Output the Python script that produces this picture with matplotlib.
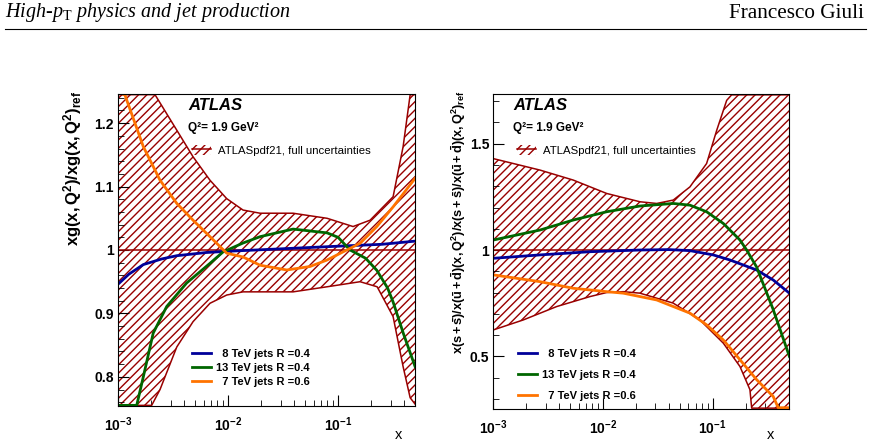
import numpy as np
import matplotlib
matplotlib.use('Agg')
import matplotlib.pyplot as plt
from matplotlib.patches import Patch
from matplotlib.lines import Line2D
from matplotlib.ticker import MultipleLocator, FuncFormatter

plt.rcParams['font.family'] = 'Liberation Sans'
plt.rcParams['font.weight'] = 'bold'
plt.rcParams['mathtext.fontset'] = 'custom'
plt.rcParams['mathtext.rm'] = 'Liberation Sans:bold'
plt.rcParams['mathtext.it'] = 'Liberation Serif:style=italic:weight=normal'
plt.rcParams['mathtext.bf'] = 'Liberation Serif:weight=normal'
plt.rcParams['hatch.linewidth'] = 1.0

# ---- gluon ratio (left), values are log10(x) / ratio ----
g_up_lx = [-3.0, -2.664, -2.466, -2.318, -2.164, -2.012, -1.864, -1.709, -1.409, -1.10, -0.864, -0.709, -0.5, -0.409, -0.345, -0.30]
g_up = [1.245, 1.245, 1.189, 1.147, 1.110, 1.081, 1.063, 1.058, 1.058, 1.050, 1.037, 1.047, 1.084, 1.163, 1.245, 1.245]
g_lo_lx = [-3.0, -2.694, -2.618, -2.466, -2.318, -2.164, -2.012, -1.864, -1.409, -1.10, -0.80, -0.645, -0.5, -0.409, -0.345, -0.30]
g_lo = [0.755, 0.755, 0.78, 0.847, 0.887, 0.916, 0.929, 0.934, 0.934, 0.942, 0.950, 0.942, 0.895, 0.816, 0.767, 0.757]

g_8tev_lx = [-3.0, -2.9, -2.77, -2.6, -2.466, -2.2, -2.0, -1.5, -1.0, -0.6, -0.30]
g_8tev = [0.946, 0.962, 0.977, 0.986, 0.991, 0.996, 0.998, 1.002, 1.006, 1.009, 1.014]
g_13tev_lx = [-3.0, -2.83, -2.77, -2.68, -2.557, -2.376, -2.164, -2.045, -1.864, -1.709, -1.409, -1.10, -1.0, -0.891, -0.75, -0.648, -0.55, -0.5, -0.406, -0.30]
g_13tev = [0.755, 0.755, 0.80, 0.869, 0.911, 0.948, 0.979, 0.997, 1.011, 1.021, 1.033, 1.027, 1.02, 1.0, 0.987, 0.968, 0.94, 0.918, 0.868, 0.816]
g_7tev_lx = [-3.0, -2.936, -2.77, -2.618, -2.466, -2.318, -2.164, -2.012, -1.864, -1.709, -1.466, -1.255, -1.103, -0.955, -0.8, -0.648, -0.5, -0.30]
g_7tev = [1.25, 1.244, 1.163, 1.110, 1.0735, 1.047, 1.021, 0.995, 0.989, 0.976, 0.9685, 0.974, 0.984, 0.997, 1.0106, 1.037, 1.068, 1.113]

# ---- strange ratio (right) ----
s_up_lx = [-3.0, -2.574, -2.271, -1.966, -1.663, -1.51, -1.359, -1.207, -1.055, -0.963, -0.872, -0.827, -0.30]
s_up = [1.43, 1.376, 1.329, 1.266, 1.227, 1.219, 1.235, 1.297, 1.407, 1.563, 1.704, 1.73, 1.73]
s_lo_lx = [-3.0, -2.727, -2.422, -2.118, -1.966, -1.815, -1.663, -1.359, -1.116, -0.903, -0.751, -0.66, -0.644, -0.30]
s_lo = [0.624, 0.671, 0.734, 0.781, 0.80, 0.804, 0.797, 0.75, 0.671, 0.562, 0.452, 0.343, 0.256, 0.256]

s_8tev_lx = [-3.0, -2.574, -2.118, -1.663, -1.4, -1.207, -0.995, -0.842, -0.599, -0.448, -0.30]
s_8tev = [0.961, 0.977, 0.992, 1.0, 1.002, 0.997, 0.977, 0.953, 0.906, 0.859, 0.797]
s_13tev_lx = [-3.0, -2.574, -2.271, -1.966, -1.663, -1.359, -1.207, -1.055, -0.903, -0.751, -0.69, -0.599, -0.448, -0.30]
s_13tev = [1.047, 1.094, 1.141, 1.18, 1.207, 1.219, 1.211, 1.18, 1.125, 1.047, 1.0, 0.92, 0.72, 0.499]
s_7tev_lx = [-3.0, -2.574, -2.271, -1.966, -1.815, -1.51, -1.207, -1.055, -0.903, -0.751, -0.599, -0.448, -0.402, -0.30]
s_7tev = [0.883, 0.851, 0.82, 0.804, 0.797, 0.765, 0.703, 0.648, 0.577, 0.484, 0.39, 0.311, 0.258, 0.258]

labels = ['  8 TeV jets R =0.4', '13 TeV jets R =0.4', '  7 TeV jets R =0.6']
band_label = 'ATLASpdf21, full uncertainties'
red = '#990000'
colors = ['#000099', '#006600', '#ff7300']


def panel(ax, up_lx, up, lo_lx, lo, curves, ylim, major, minor, ylabel, ylab_size,
          ylab_x, xlab_xy, leg_band_xy, leg_xy, leg_spacing, text_xy):
    ax.set_xscale('log')
    xu = 10 ** np.array(up_lx)
    xl = 10 ** np.array(lo_lx)
    ax.fill(np.concatenate([xu, xl[::-1]]), np.concatenate([up, lo[::-1]]),
            facecolor='none', edgecolor=red, hatch='////', linewidth=0)
    ax.plot(xu, up, color=red, lw=1.1)
    ax.plot(xl, lo, color=red, lw=1.1)
    ax.axhline(1, color=red, lw=1.1)
    for (lx, y), c in zip(curves, colors):
        ax.plot(10 ** np.array(lx), y, color=c, lw=2.0)
    ax.set_xlim(1e-3, 0.5)
    ax.set_ylim(*ylim)
    ax.yaxis.set_major_locator(MultipleLocator(major))
    ax.yaxis.set_minor_locator(MultipleLocator(minor))
    ax.yaxis.set_major_formatter(FuncFormatter(lambda v, p: '%g' % round(v, 3)))
    ax.tick_params(which='both', direction='in', top=False, right=False, labelsize=10)
    ax.tick_params(which='major', length=8)
    ax.tick_params(which='minor', length=4)
    ax.tick_params(axis='x', pad=7)
    ax.tick_params(axis='y', pad=3)
    ax.set_ylabel(ylabel, fontsize=ylab_size, loc='top')
    ax.yaxis.set_label_coords(ylab_x, 1.01)
    ax.set_xlabel('x', fontsize=10.5, va='center')
    ax.xaxis.set_label_coords(*xlab_xy)

    ax.text(text_xy[0], text_xy[1], 'ATLAS', transform=ax.transAxes, fontsize=12,
            style='italic', weight='bold', va='center')
    ax.text(text_xy[0], text_xy[1] - 0.07, 'Q²= 1.9 GeV²', transform=ax.transAxes,
            fontsize=8.5, va='center')

    band_h = (Patch(facecolor='none', edgecolor=red, hatch='////', linewidth=0),
              Line2D([], [], color=red, lw=1.1))
    lb = ax.legend([band_h], [band_label], loc='center left', bbox_to_anchor=leg_band_xy,
                   frameon=False, borderpad=0, borderaxespad=0, handlelength=1.7,
                   handleheight=1.0, handletextpad=0.6, prop={'size': 8.2, 'weight': 'normal'})
    ax.add_artist(lb)
    hs = [Line2D([], [], color=c, lw=2.0) for c in colors]
    ax.legend(hs, labels, loc='upper left', bbox_to_anchor=leg_xy, frameon=False,
              borderpad=0, borderaxespad=0, handlelength=1.7, handletextpad=0.5,
              labelspacing=leg_spacing, prop={'size': 8, 'weight': 'bold'})


fig = plt.figure(figsize=(8.71, 4.45), dpi=100)

fig.text(5 / 871, 1 - 13 / 445, r'High-$\mathit{p}_\mathbf{T}$ physics and jet production',
         family='Liberation Serif', style='italic', weight='normal', fontsize=14.5, va='center')
fig.text(864 / 871, 1 - 13 / 445, 'Francesco Giuli', family='Liberation Serif',
         weight='normal', fontsize=15.3, va='center', ha='right')
fig.add_artist(Line2D([5 / 871, 866 / 871], [1 - 29 / 445, 1 - 29 / 445], color='black', lw=0.8))

axL = fig.add_axes([118 / 871, 1 - 406 / 445, 297 / 871, 312 / 445])
panel(axL, g_up_lx, g_up, g_lo_lx, g_lo,
      [(g_8tev_lx, g_8tev), (g_13tev_lx, g_13tev), (g_7tev_lx, g_7tev)],
      (0.754, 1.246), 0.1, 0.02,
      r'$\mathrm{xg(x,Q^{2})/xg(x,Q^{2})_{ref}}$', 12, -0.115,
      (0.943, -0.093), (0.249, 0.82), (0.248, 0.183), 0.36, (0.236, 0.962))

axR = fig.add_axes([493.3 / 871, 1 - 409 / 445, 296 / 871, 315 / 445])
panel(axR, s_up_lx, s_up, s_lo_lx, s_lo,
      [(s_8tev_lx, s_8tev), (s_13tev_lx, s_13tev), (s_7tev_lx, s_7tev)],
      (0.252, 1.734), 0.5, 0.1,
      r'$\mathrm{x(s+\bar{s})/x(\bar{u}+\bar{d})(x,Q^{2})/x(s+\bar{s})/x(\bar{u}+\bar{d})(x,Q^{2})_{ref}}$',
      9.2, -0.085, (0.935, -0.083), (0.08, 0.822), (0.083, 0.19), 1.0, (0.067, 0.962))

fig.savefig('out.png', dpi=100)
